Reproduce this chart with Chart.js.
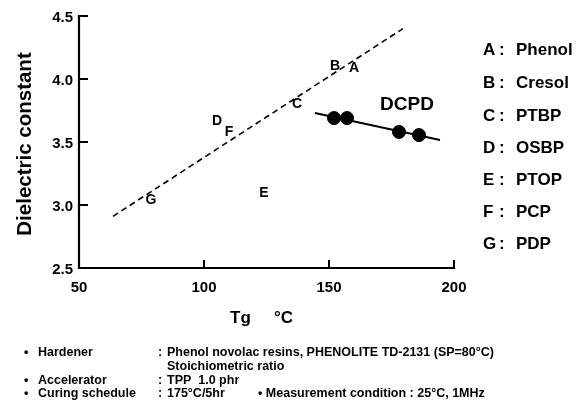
<!DOCTYPE html>
<html>
<head>
<meta charset="utf-8">
<script src="https://cdn.jsdelivr.net/npm/chart.js@4.4.0/dist/chart.umd.min.js"></script>
<style>
html,body{margin:0;padding:0;background:#fff;}
#wrap{width:585px;height:406px;position:relative;}
</style>
</head>
<body>
<div id="wrap"><canvas id="c" width="585" height="406"></canvas></div>
<script>
// ---- data ----
const letters = ['A','B','C','D','E','F','G'];
const names = ['Phenol','Cresol','PTBP','OSBP','PTOP','PCP','PDP'];
const letterTg = [160, 152.4, 137.2, 105.2, 124, 110, 78.8];
const letterDk = [4.087, 4.103, 3.802, 3.667, 3.095, 3.579, 3.040];
const dcpdTg = [152, 157.2, 178, 186];
const dcpdDk = [3.69, 3.69, 3.58, 3.555];
const dashTg = [63.6, 179.6];
const dashDk = [2.91, 4.40];
const solidTg = [144.4, 194.4];
const solidDk = [3.73, 3.516];
const xTicks = [50, 100, 150, 200];
const xTickLabels = ['50', '100', '150', '200'];
const yTicks = [2.5, 3.0, 3.5, 4.0, 4.5];
const yTickLabels = ['2.5', '3.0', '3.5', '4.0', '4.5'];
const notes = [
  ['\u2022', 'Hardener', ':', 'Phenol novolac resins, PHENOLITE TD-2131\u00A0(SP=80\u00B0C)'],
  ['', '', '', 'Stoichiometric ratio'],
  ['\u2022', 'Accelerator', ':', 'TPP\u00A0 1.0 phr'],
  ['\u2022', 'Curing schedule', ':', '175\u00B0C/5hr']
];
const measureNote = '\u2022 Measurement condition : 25\u00B0C, 1MHz';

const toPts = (xs, ys) => xs.map((x, i) => ({x: x, y: ys[i]}));
const FONT = '"Liberation Sans", Arial, sans-serif';

const decor = {
  id: 'decor',
  afterDatasetsDraw(chart) {
    const ctx = chart.ctx;
    const xs = chart.scales.x, ys = chart.scales.y;
    const x0 = xs.getPixelForValue(50), x1 = xs.getPixelForValue(200);
    const y0 = ys.getPixelForValue(2.5), y1 = ys.getPixelForValue(4.5);
    ctx.save();
    ctx.strokeStyle = '#000';
    ctx.lineWidth = 2.2;
    ctx.lineCap = 'square';
    ctx.beginPath();
    ctx.moveTo(x0, y1); ctx.lineTo(x0, y0); ctx.lineTo(x1, y0);
    ctx.stroke();
    // inward ticks
    ctx.lineWidth = 2;
    ctx.beginPath();
    yTicks.forEach(v => { if (v > 2.5) { const p = ys.getPixelForValue(v); ctx.moveTo(x0, p); ctx.lineTo(x0 + 8, p); } });
    xTicks.forEach(v => { if (v > 50) { const p = xs.getPixelForValue(v); ctx.moveTo(p, y0); ctx.lineTo(p, y0 - 7); } });
    ctx.stroke();
    ctx.fillStyle = '#000';
    // tick labels
    ctx.font = 'bold 15px ' + FONT;
    ctx.textAlign = 'right'; ctx.textBaseline = 'middle';
    yTicks.forEach((v, i) => ctx.fillText(yTickLabels[i], x0 - 6, ys.getPixelForValue(v) + 2));
    ctx.textAlign = 'center'; ctx.textBaseline = 'top';
    xTicks.forEach((v, i) => ctx.fillText(xTickLabels[i], xs.getPixelForValue(v), y0 + 12));
    // letter labels
    ctx.font = 'bold 14px ' + FONT;
    ctx.textAlign = 'center'; ctx.textBaseline = 'middle';
    letters.forEach((l, i) => ctx.fillText(l, xs.getPixelForValue(letterTg[i]), ys.getPixelForValue(letterDk[i])));
    // DCPD label
    ctx.font = 'bold 19px ' + FONT;
    ctx.fillText('DCPD', 407, 105);
    // axis titles
    ctx.font = 'bold 17px ' + FONT;
    ctx.textAlign = 'left';
    ctx.fillText('Tg', 230, 318);
    ctx.fillText('\u00B0C', 274, 318);
    ctx.save();
    ctx.translate(25, 144);
    ctx.rotate(-Math.PI / 2);
    ctx.textAlign = 'center';
    ctx.font = 'bold 20.5px ' + FONT;
    ctx.fillText('Dielectric constant', 0, 0);
    ctx.restore();
    // legend list
    const ly = [50, 83, 116, 148, 180, 212, 244];
    ctx.font = 'bold 17px ' + FONT;
    ctx.textAlign = 'left'; ctx.textBaseline = 'middle';
    letters.forEach((l, i) => {
      ctx.fillText(l, 483, ly[i]);
      ctx.fillText(':', 499, ly[i]);
      ctx.fillText(names[i], 516, ly[i]);
    });
    // notes
    ctx.font = 'bold 12.5px ' + FONT;
    const ny = [353, 367, 381, 394];
    notes.forEach((n, i) => {
      ctx.fillText(n[0], 24, ny[i]);
      ctx.fillText(n[1], 38, ny[i]);
      ctx.fillText(n[2], 158, ny[i]);
      ctx.fillText(n[3], 167, ny[i]);
    });
    ctx.fillText(measureNote, 258, 394);
    ctx.restore();
  }
};

new Chart(document.getElementById('c'), {
  type: 'scatter',
  data: {
    datasets: [
      { type: 'line', data: toPts(dashTg, dashDk), borderColor: '#000', borderWidth: 1.6, borderDash: [6, 4], pointRadius: 0, fill: false },
      { type: 'line', data: toPts(solidTg, solidDk), borderColor: '#000', borderWidth: 2, pointRadius: 0, fill: false },
      { data: toPts(dcpdTg, dcpdDk), backgroundColor: '#000', borderColor: '#000', pointRadius: 6.5, pointHoverRadius: 6.5 }
    ]
  },
  options: {
    responsive: false,
    animation: false,
    devicePixelRatio: 1,
    layout: { padding: { left: 79, top: 16, right: 131, bottom: 138 } },
    plugins: { legend: { display: false }, tooltip: { enabled: false } },
    events: [],
    scales: {
      x: { type: 'linear', min: 50, max: 200, display: false },
      y: { type: 'linear', min: 2.5, max: 4.5, display: false }
    }
  },
  plugins: [decor]
});
</script>
</body>
</html>
